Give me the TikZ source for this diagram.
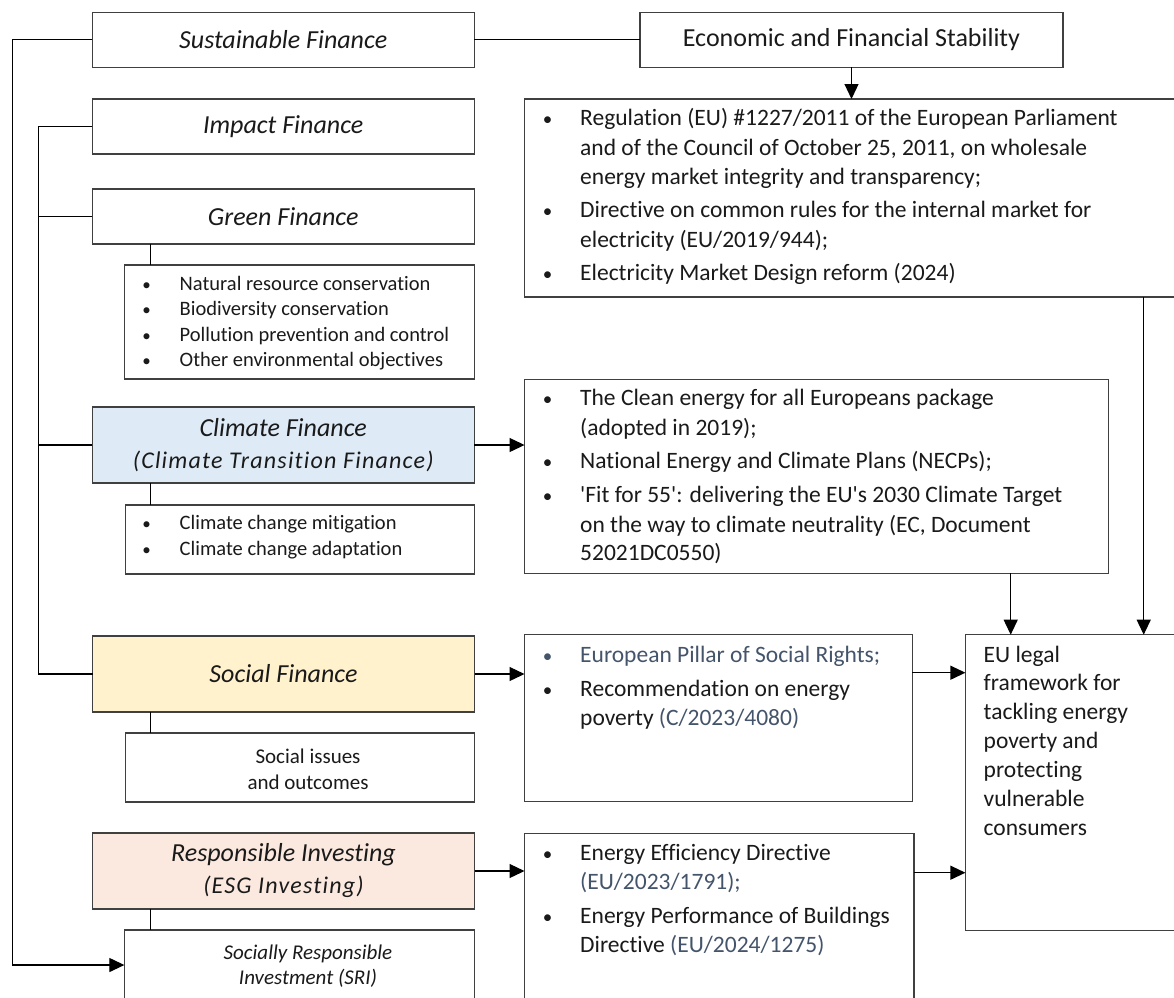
\documentclass[tikz,border=0pt]{standalone}
\usepackage{fontspec}
\setmainfont{Carlito}[Ligatures={TeXOff,NoCommon}]
\usetikzlibrary{arrows.meta}
\definecolor{slate}{HTML}{44546A}
\definecolor{bluefill}{HTML}{DEEBF7}
\definecolor{yelfill}{HTML}{FFF2CC}
\definecolor{peachfill}{HTML}{FBE9DF}
\definecolor{boxline}{HTML}{404040}
\definecolor{txt}{HTML}{1A1A1A}
\begin{document}
\begin{tikzpicture}[x=1pt,y=-1pt,
  box/.style={draw=boxline, line width=1.1pt, inner sep=0pt, outer sep=0pt, text=txt},
  conn/.style={draw=black, line width=1.2pt},
  arr/.style={conn, -{Triangle[length=15pt,width=14pt]}},
  title/.style={font=\fontsize{26}{32}\selectfont\itshape, align=center},
  body/.style={anchor=mid west, inner sep=0pt, text=txt, font=\fontsize{23.5}{28}\selectfont},
  bul/.style={anchor=mid, inner sep=0pt, text=txt, font=\fontsize{19}{20}\selectfont},
  small/.style={anchor=mid west, inner sep=0pt, text=txt, font=\fontsize{20.5}{24}\selectfont},
  sbul/.style={anchor=mid, inner sep=0pt, text=txt, font=\fontsize{17}{20}\selectfont},
]
\clip (0,0) rectangle (1174,997);
\fill[white] (0,0) rectangle (1174,997);

% ---------- boxes ----------
\node[box, minimum width=381.7, minimum height=55, title] (sf) at (283.2,39.8) {Sustainable Finance};
\node[box, minimum width=423, minimum height=55, font=\fontsize{26}{30}\selectfont] (efs) at (851.5,39.8) {Economic and Financial Stability};
\node[box, minimum width=675.5, minimum height=198] (reg) at (862.25,198) {};
\node[box, minimum width=381.7, minimum height=55, title] (imp) at (283.2,126.5) {Impact Finance};
\node[box, minimum width=381.7, minimum height=55, title] (grn) at (283.2,216.5) {Green Finance};
\node[box, minimum width=349.7, minimum height=114] (glist) at (299.2,322) {};
\node[box, fill=bluefill, minimum width=382, minimum height=76, title] (clim) at (283.3,445)
  {Climate Finance\\{\fontsize{24}{32}\selectfont\addfontfeature{LetterSpace=5}(Climate Transition Finance)}};
\node[box, minimum width=349.5, minimum height=69] (clist) at (299.8,539.5) {};
\node[box, minimum width=583.5, minimum height=194.3] (clean) at (816.3,476.2) {};
\node[box, minimum width=234.6, minimum height=296] (eu) at (1082.7,782.7) {};
\node[box, fill=yelfill, minimum width=382, minimum height=76, title] (soc) at (283.5,674) {Social Finance};
\node[box, minimum width=387.8, minimum height=167] (srights) at (718.4,718.2) {};
\node[box, minimum width=349.5, minimum height=69] (sissues) at (299.8,767.5) {};
\node[box, fill=peachfill, minimum width=382, minimum height=76, title] (resp) at (283.5,871)
  {Responsible Investing\\{\fontsize{24}{32}\selectfont\addfontfeature{LetterSpace=5}(ESG Investing)}};
\node[box, minimum width=389.5, minimum height=176.7] (eee) at (719.25,921.7) {};
\node[box, minimum width=349.7, minimum height=80] (sri) at (299.2,970) {};

% ---------- texts ----------
% regulation box
\node[bul] (rb1) at (547.5,123.3) {\textbullet};
\node[body] (rt1) at (580,123.3) {Regulation (EU) \#1227/2011 of the European Parliament};
\node[body] (rt2) at (580,152.7) {and of the Council of October 25, 2011, on wholesale};
\node[body] (rt3) at (580,181.7) {energy market integrity and transparency;};
\node[bul] (rb2) at (547.5,215) {\textbullet};
\node[body] (rt4) at (580,215) {Directive on common rules for the internal market for};
\node[body] (rt5) at (580,245) {electricity (EU/2019/944);};
\node[bul] (rb3) at (547.5,278.3) {\textbullet};
\node[body] (rt6) at (580,278.3) {Electricity Market Design reform (2024)};

% clean energy box
\node[bul] (cb1) at (547.5,403.3) {\textbullet};
\node[body] (ct1) at (580,403.3) {The Clean energy for all Europeans package};
\node[body] (ct2) at (580,432.7) {(adopted in 2019);};
\node[bul] (cb2) at (547.5,466) {\textbullet};
\node[body] (ct3) at (580,466) {National Energy and Climate Plans (NECPs);};
\node[bul] (cb3) at (547.5,500) {\textbullet};
\node[body] (ct4) at (580,500) {'Fit for 55': delivering the EU's 2030 Climate Target};
\node[body] (ct5) at (580,530) {on the way to climate neutrality (EC, Document};
\node[body] (ct6) at (580,558) {52021DC0550)};

% social rights box
\node[bul, text=slate] (sb1) at (547.5,660) {\textbullet};
\node[body, text=slate] (st1) at (580,660) {European Pillar of Social Rights;};
\node[bul] (sb2) at (547.5,694) {\textbullet};
\node[body] (st2) at (580,694) {Recommendation on energy};
\node[body] (st3) at (580,722.7) {poverty \textcolor{slate}{(C/2023/4080)}};

% energy efficiency box
\node[bul] (eb1) at (547.5,858) {\textbullet};
\node[body] (et1) at (580,858) {Energy Efficiency Directive};
\node[body, text=slate] (et2) at (580,886.7) {(EU/2023/1791);};
\node[bul] (eb2) at (547.5,920.7) {\textbullet};
\node[body] (et3) at (580,920.7) {Energy Performance of Buildings};
\node[body] (et4) at (580,950) {Directive \textcolor{slate}{(EU/2024/1275)}};

% EU legal framework
\node[body] (u1) at (983.5,660) {EU legal};
\node[body] (u2) at (983.5,688) {framework for};
\node[body] (u3) at (983.5,717) {tackling energy};
\node[body] (u4) at (983.5,746) {poverty and};
\node[body] (u5) at (983.5,775) {protecting};
\node[body] (u6) at (983.5,804) {vulnerable};
\node[body] (u7) at (983.5,833) {consumers};

% green list
\node[sbul] (gb1) at (146.7,288) {\textbullet};
\node[small] (gt1) at (179.5,288) {Natural resource conservation};
\node[sbul] (gb2) at (146.7,313) {\textbullet};
\node[small] (gt2) at (179.5,313) {Biodiversity conservation};
\node[sbul] (gb3) at (146.7,339) {\textbullet};
\node[small] (gt3) at (179.5,339) {Pollution prevention and control};
\node[sbul] (gb4) at (146.7,364) {\textbullet};
\node[small] (gt4) at (179.5,364) {Other environmental objectives};

% climate list
\node[sbul] (lb1) at (146.7,527) {\textbullet};
\node[small] (lt1) at (179.5,527) {Climate change mitigation};
\node[sbul] (lb2) at (146.7,553) {\textbullet};
\node[small] (lt2) at (179.5,553) {Climate change adaptation};

% social issues
\node[align=center, inner sep=0pt, text=txt, font=\fontsize{21}{26}\selectfont] (si) at (308,769.5) {Social issues\\and outcomes};
% SRI
\node[align=center, inner sep=0pt, text=txt, font=\fontsize{21}{25}\selectfont\itshape] (srit) at (308,966) {Socially Responsible\\Investment (SRI)};

% ---------- connectors ----------
\coordinate (vx) at (38.3,0);
\coordinate (gx) at (150.5,0);
\coordinate (L1) at (12.3,965);
\coordinate (cx) at (1010.7,0);
\coordinate (rx) at (1143.7,0);

\draw[arr] (sf.west) -| (L1) -- (L1 -| sri.west);
\draw[conn] (sf.east) -- (efs.west);
\draw[arr] (efs.south) -- (efs.south |- reg.north);

\draw[conn] (imp.west) -- (imp.west -| vx) |- (soc.west);
\draw[conn] (grn.west) -- (grn.west -| vx);
\draw[conn] (clim.west) -- (clim.west -| vx);

\draw[conn] (grn.south -| gx) -- (glist.north -| gx);
\draw[conn] (clim.south -| gx) -- (clist.north -| gx);
\draw[conn] (soc.south -| gx) -- (sissues.north -| gx);
\draw[conn] (resp.south -| gx) -- (sri.north -| gx);

\draw[arr] (clim.east) -- (clim.east -| clean.west);
\draw[arr] (soc.east) -- (soc.east -| srights.west);
\draw[arr] (resp.east) -- (resp.east -| eee.west);
\draw[arr] (srights.east |- 0,672.7) -- (eu.west |- 0,672.7);
\draw[arr] (eee.east |- 0,872.7) -- (eu.west |- 0,872.7);

\draw[arr] (clean.south -| cx) -- (eu.north -| cx);
\draw[arr] (reg.south -| rx) -- (eu.north -| rx);
\end{tikzpicture}
\end{document}
